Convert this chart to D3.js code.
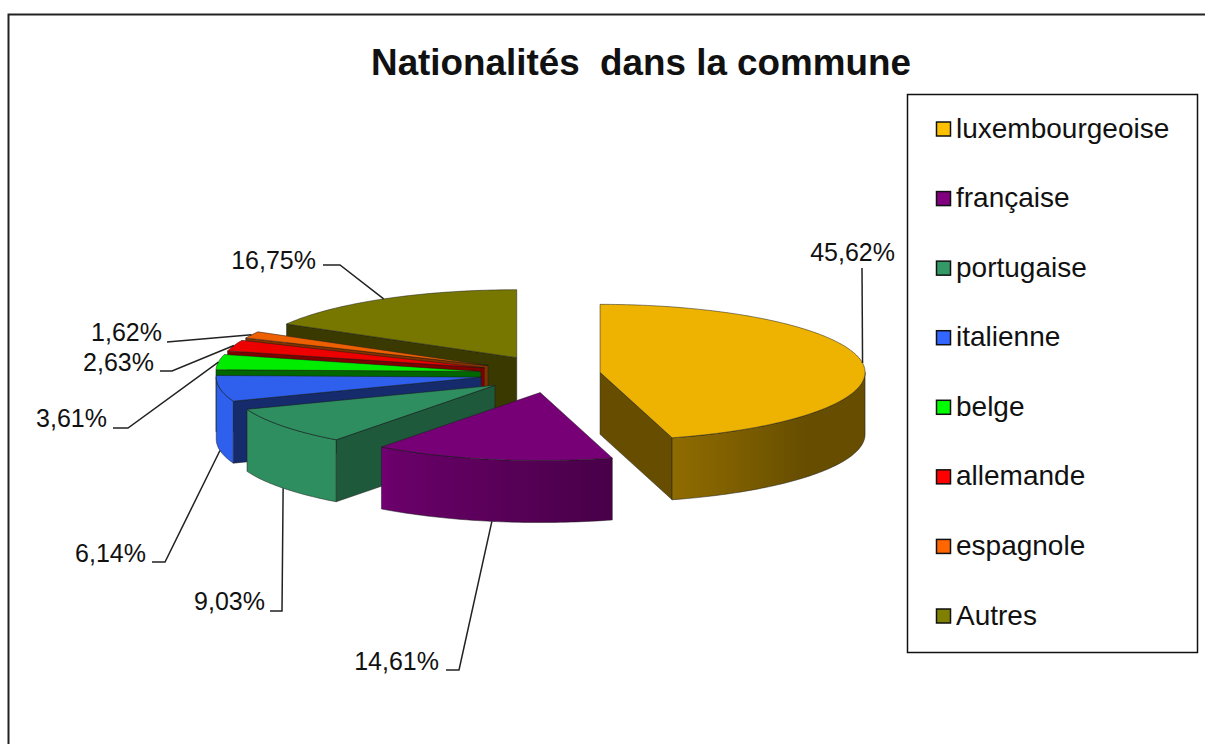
<!DOCTYPE html>
<html>
<head>
<meta charset="utf-8">
<title>Nationalités dans la commune</title>
<script src="https://cdn.jsdelivr.net/npm/d3@7"></script>
<style>
    html, body { margin: 0; padding: 0; background: #fff; overflow: hidden; }
    text { font-family: "Liberation Sans", Arial, sans-serif; fill: #111; }
</style>
</head>
<body>
<div id="chart"></div>
<script>
// Chart values
const nationalites = ["luxembourgeoise", "française", "portugaise", "italienne", "belge", "allemande", "espagnole", "Autres"];
const parts = [45.62, 14.61, 9.03, 6.14, 3.61, 2.63, 1.62, 16.75];
const explosion = [0.177, 0.277, 0.277, 0.277, 0.277, 0.277, 0.277, 0.277];
const couleurs = ["#ffc000", "#800080", "#339966", "#3366ff", "#00ff00", "#ff0000", "#ff6600", "#808000"];
const ombres = [0.4, 0.4, 0.58, 0.42, 0.4, 0.5, 0.5, 0.45]; // darkening of the cut faces

const width = 1205, height = 744;
const center = { x: 553.6, y: 374 };
const radiusX = 265, radiusY = 68, depth = 62;

// Labels were placed by hand in the original: text end, baseline, start of leader and its knee
const labelLayout = [
    { x: 895, y: 261, leader: [[862, 268]] },
    { x: 439, y: 670, leader: [[446, 670], [459, 670]] },
    { x: 265, y: 610, leader: [[270, 611], [282, 611]] },
    { x: 146, y: 562, leader: [[152, 562], [165, 562]] },
    { x: 107, y: 427, leader: [[113, 428], [128, 428]] },
    { x: 154, y: 371, leader: [[160, 371], [172, 371]] },
    { x: 162, y: 341, leader: [[167, 342]] },
    { x: 316, y: 269, leader: [[323, 265], [340, 265]] }
];

const svg = d3.select("#chart")
    .append("svg")
    .attr("width", width)
    .attr("height", height)
    .style("display", "block");

const defs = svg.append("defs");

// Outer frame, runs off the right and the bottom of the window
svg.append("rect")
    .attr("x", 8.5)
    .attr("y", 14.5)
    .attr("width", width + 20)
    .attr("height", height + 20)
    .attr("fill", "#fff")
    .attr("stroke", "#222")
    .attr("stroke-width", 2);

svg.append("text")
    .attr("x", 641)
    .attr("y", 75)
    .attr("text-anchor", "middle")
    .style("font-size", "36.8px")
    .style("font-weight", "bold")
    .style("white-space", "pre")
    .text("Nationalités  dans la commune");

const shade = (color, f) => {
    const c = d3.rgb(color);
    return d3.rgb(c.r * f, c.g * f, c.b * f).formatHex();
};

// Brightness of the outer wall according to the angle around the pie (degrees)
const lighting = d3.scaleLinear()
    .domain([90, 130, 164, 216, 217, 280])
    .range([0.4, 0.4, 0.56, 0.84, 0.93, 0.93])
    .clamp(true);

const TAU = Math.PI * 2;
const pie = d3.pie().sort(null).value(d => d.value).startAngle(0).endAngle(TAU);

const slices = pie(nationalites.map((name, i) => ({
    name: name,
    value: parts[i],
    color: couleurs[i],
    wall: ombres[i],
    explode: explosion[i],
    layout: labelLayout[i]
})));

const scaleX = d3.scaleLinear().domain([-1, 1]).range([-radiusX, radiusX]);
const scaleY = d3.scaleLinear().domain([-1, 1]).range([radiusY, -radiusY]);

slices.forEach(s => {
    const mid = (s.startAngle + s.endAngle) / 2;
    s.mid = mid;
    s.apex = [
        center.x + scaleX(Math.sin(mid) * s.data.explode),
        center.y + scaleY(Math.cos(mid) * s.data.explode)
    ];
});

const rimPoint = (s, angle, z = 0) => [
    s.apex[0] + scaleX(Math.sin(angle)),
    s.apex[1] + scaleY(Math.cos(angle)) + z
];

const arcAngles = (a0, a1) => {
    const n = Math.max(2, Math.ceil((a1 - a0) / 0.02));
    return d3.range(n + 1).map(i => a0 + (a1 - a0) * i / n);
};

const closedLine = d3.line().curve(d3.curveLinearClosed);
const outlineColor = "#1a1a1a";

// Painter's order: back slices first
const order = [7, 6, 5, 4, 3, 2, 1, 0];
const pieGroup = svg.append("g");

order.forEach(i => {
    const s = slices[i];
    const g = pieGroup.append("g").attr("class", "slice");

    // Cut faces that look towards the viewer
    [s.startAngle, s.endAngle].forEach((a, k) => {
        const visible = k === 0 ? (a > Math.PI && a < TAU) : (a > 0 && a < Math.PI);
        if (!visible) return;
        const p = rimPoint(s, a);
        g.append("path")
            .attr("d", closedLine([s.apex, p, [p[0], p[1] + depth], [s.apex[0], s.apex[1] + depth]]))
            .attr("fill", shade(s.data.color, s.data.wall))
            .attr("stroke", outlineColor)
            .attr("stroke-width", 0.5);
    });

    // Outer wall, only the front half of the ellipse shows
    const a0 = Math.max(s.startAngle, Math.PI / 2);
    const a1 = Math.min(s.endAngle, Math.PI * 1.5);
    if (a1 > a0) {
        const angles = arcAngles(a0, a1);
        const top = angles.map(a => rimPoint(s, a));
        const bottom = angles.map(a => rimPoint(s, a, depth)).reverse();
        const xs = top.map(p => p[0]);
        const id = `rim-${i}`;
        const grad = defs.append("linearGradient")
            .attr("id", id)
            .attr("gradientUnits", "userSpaceOnUse")
            .attr("x1", d3.min(xs))
            .attr("x2", d3.max(xs))
            .attr("y1", 0)
            .attr("y2", 0);
        const xScale = d3.scaleLinear().domain(d3.extent(xs)).range([0, 1]);
        const stops = d3.range(21).map(k => a0 + (a1 - a0) * k / 20)
            .map(a => ({ offset: xScale(rimPoint(s, a)[0]), deg: a * 180 / Math.PI }))
            .sort((p, q) => p.offset - q.offset);
        grad.selectAll("stop")
            .data(stops)
            .join("stop")
            .attr("offset", d => d.offset)
            .attr("stop-color", d => shade(s.data.color, lighting(d.deg)));
        g.append("path")
            .attr("d", closedLine(top.concat(bottom)))
            .attr("fill", `url(#${id})`)
            .attr("stroke", outlineColor)
            .attr("stroke-width", 0.5);
    }

    // Top face
    const topFace = [s.apex].concat(arcAngles(s.startAngle, s.endAngle).map(a => rimPoint(s, a)));
    g.append("path")
        .attr("d", closedLine(topFace))
        .attr("fill", shade(s.data.color, 0.93))
        .attr("stroke", outlineColor)
        .attr("stroke-width", 0.5);
});

// Data labels with leader lines, which end on the rim at the middle of the slice
const leaderLine = d3.line();
const percent = d3.formatLocale({ decimal: ",", thousands: " ", grouping: [3], currency: ["", " €"] }).format(".2f");

slices.forEach(s => {
    const front = Math.cos(s.mid) < 0;
    const end = rimPoint(s, s.mid, front ? depth : 0);
    svg.append("path")
        .attr("d", leaderLine(s.data.layout.leader.concat([end])))
        .attr("fill", "none")
        .attr("stroke", "#222")
        .attr("stroke-width", 1.5);
    svg.append("text")
        .attr("x", s.data.layout.x)
        .attr("y", s.data.layout.y)
        .attr("text-anchor", "end")
        .style("font-size", "25px")
        .text(`${percent(s.data.value)}%`);
});

// Legend
const legend = svg.append("g");
legend.append("rect")
    .attr("x", 907.5)
    .attr("y", 94.5)
    .attr("width", 290)
    .attr("height", 558)
    .attr("fill", "#fff")
    .attr("stroke", "#111")
    .attr("stroke-width", 1.5);

const legendY = d3.scalePoint()
    .domain(nationalites)
    .range([128.5, 615.5]);

const items = legend.selectAll(".legend-item")
    .data(nationalites)
    .join("g")
    .attr("class", "legend-item")
    .attr("transform", d => `translate(936,${legendY(d)})`);

items.append("rect")
    .attr("x", 0.5)
    .attr("y", -6.5)
    .attr("width", 14)
    .attr("height", 14)
    .attr("fill", (d, i) => couleurs[i])
    .attr("stroke", "#111")
    .attr("stroke-width", 1.5);

items.append("text")
    .attr("x", 20)
    .attr("y", 9)
    .style("font-size", "28px")
    .text(d => d);
</script>
</body>
</html>
